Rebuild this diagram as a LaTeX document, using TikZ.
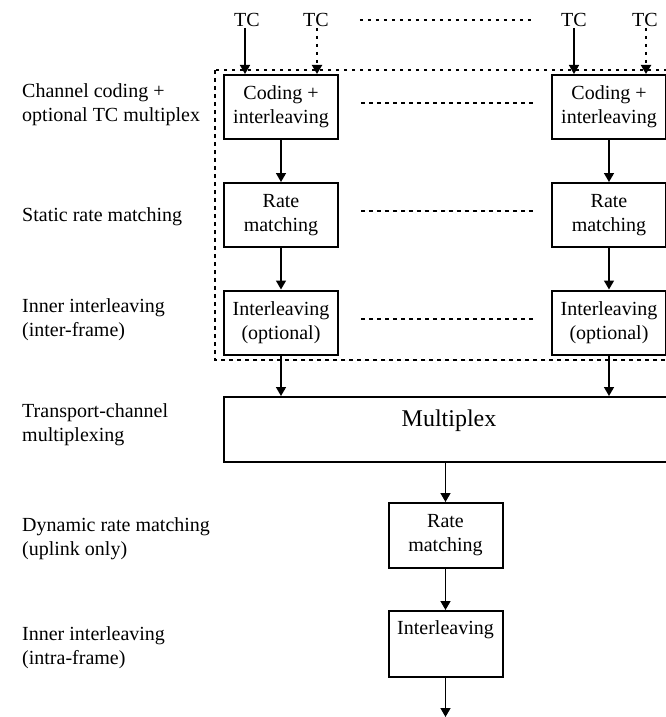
\documentclass[tikz,border=0pt]{standalone}
\usepackage{fontspec}
\setmainfont{Liberation Serif}
\usetikzlibrary{arrows.meta,positioning}
\begin{document}
\begin{tikzpicture}[x=1pt, y=-1pt, line join=miter,
    box/.style={draw, line width=2pt, minimum width=114pt, minimum height=64pt,
      inner sep=1pt, align=center, font=\fontsize{20}{24}\selectfont},
    note/.style={anchor=west, align=left, inner sep=0pt, font=\fontsize{20}{24}\selectfont},
    tc/.style={inner sep=1pt, font=\fontsize{20}{24}\selectfont},
    flow/.style={line width=1.5pt, -{Triangle[length=9pt, width=10pt]}},
    dots/.style={line width=2pt, dash pattern=on 3.5pt off 4.5pt}]
	\useasboundingbox (0,0) rectangle (665,717);
	% left column
	\node[box] (cod1) at (281,107) {Coding +\\interleaving};
	\node[box] (rat1) at (281,215) {Rate\\matching};
	\node[box] (int1) at (281,322.5) {Interleaving\\(optional)};
	% right column
	\node[box] (cod2) at (609,107) {Coding +\\interleaving};
	\node[box] (rat2) at (609,215) {Rate\\matching};
	\node[box] (int2) at (609,322.5) {Interleaving\\(optional)};
	% transport channels
	\node[tc] (tc1) at (247,20) {TC};
	\node[tc] (tc2) at (316,20) {TC};
	\node[tc] (tc3) at (574,20) {TC};
	\node[tc] (tc4) at (645,20) {TC};
	% common part
	\node[box, minimum width=450pt, minimum height=65pt, font=\fontsize{24}{23}\selectfont] (mux) at (449,429.5) {Multiplex\\\mbox{}};
	\node[box, minimum height=65pt] (rat3) at (445.5,535.5) {Rate\\matching};
	\node[box, minimum height=66pt] (int3) at (445.5,644) {Interleaving\\[8pt]\mbox{}};
	\coordinate (out) at (445.5,717);
	% layer names
	\node[note] (n1) at (22,105) {Channel coding +\\optional TC multiplex};
	\node[note] (n2) at (22,217) {Static rate matching};
	\node[note] (n3) at (22,319.5) {Inner interleaving\\(inter-frame)};
	\node[note] (n4) at (22,425) {Transport-channel\\multiplexing};
	\node[note] (n5) at (22,539) {Dynamic rate matching\\(uplink only)};
	\node[note] (n6) at (22,648) {Inner interleaving\\(intra-frame)};
	% inputs
	\draw[flow] ([xshift=-2pt]tc1.south) -- ([xshift=-2pt]tc1.south |- cod1.north);
	\draw[flow, dots] ([xshift=1pt]tc2.south) -- ([xshift=1pt]tc2.south |- cod1.north);
	\draw[flow] (tc3.south) -- (tc3.south |- cod2.north);
	\draw[flow, dots] ([xshift=1pt]tc4.south) -- ([xshift=1pt]tc4.south |- cod2.north);
	% chains
	\foreach \c in {1,2} {
		\draw[flow] (cod\c) -- (rat\c);
		\draw[flow] (rat\c) -- (int\c);
		\draw[flow] (int\c) -- (int\c |- mux.north);
	}
	\draw[flow] (mux.south -| rat3) -- (rat3);
	\draw[flow] (rat3) -- (int3);
	\draw[flow] (int3) -- (out);
	% dotted parts
	\draw[dots] (215,70) rectangle (675,360);
	\draw[dots] ([xshift=30pt]tc2.east) -- ([xshift=-25pt]tc3.west);
	\draw[dots] ([xshift=22pt, yshift=4pt]cod1.east) -- ([xshift=-17pt, yshift=4pt]cod2.west);
	\draw[dots] ([xshift=22pt, yshift=4pt]rat1.east) -- ([xshift=-17pt, yshift=4pt]rat2.west);
	\draw[dots] ([xshift=22pt, yshift=4pt]int1.east) -- ([xshift=-17pt, yshift=4pt]int2.west);
\end{tikzpicture}
\end{document}
